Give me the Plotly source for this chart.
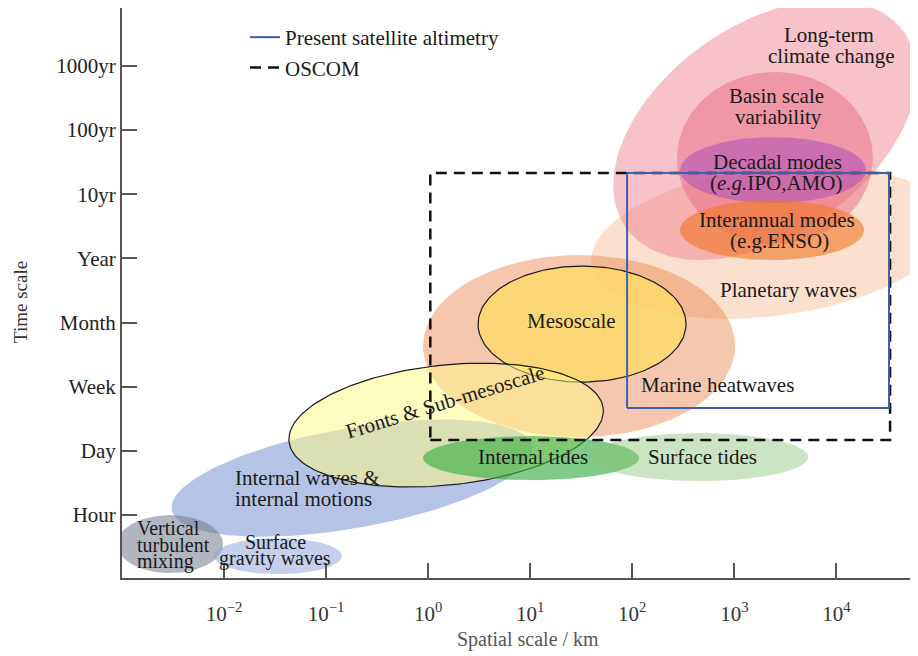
import numpy as np
import plotly.graph_objects as go

# ---------------- data ----------------
time_ticks = ["Hour", "Day", "Week", "Month", "Year", "10yr", "100yr", "1000yr"]
space_ticks_km = [1e-2, 1e-1, 1e0, 1e1, 1e2, 1e3, 1e4]
space_tick_text = ["10<sup>−2</sup>", "10<sup>−1</sup>", "10<sup>0</sup>", "10<sup>1</sup>",
                   "10<sup>2</sup>", "10<sup>3</sup>", "10<sup>4</sup>"]

# phenomena: centre spatial scale (km), centre time (tick index, Hour=0),
# half extent along main axis (decades), half extent across (time ticks), tilt (deg)
phen_names = ["Planetary waves", "Long-term climate change", "Basin scale variability",
              "Decadal modes", "Interannual modes", "Marine heatwaves", "Mesoscale",
              "Internal waves & internal motions", "Fronts & Sub-mesoscale",
              "Internal tides", "Surface tides", "Vertical turbulent mixing",
              "Surface gravity waves"]
phen_center_km = [2240, 2000, 2500, 2400, 2340, 30.1, 32.2, 0.179, 1.50, 10.2, 452, 0.00296, 0.0338]
phen_center_t = [4.253, 6.00, 5.562, 5.375, 4.440, 2.633, 2.976, 0.576, 1.402, 0.888, 0.904, -0.452, -0.639]
phen_half_dec = [1.764, 1.666, 0.960, 0.911, 0.902, 1.529, 1.019, 1.793, 1.548, 1.058, 1.068, 0.519, 0.627]
phen_half_t = [1.153, 1.636, 1.340, 0.514, 0.467, 1.418, 0.904, 0.779, 0.935, 0.343, 0.374, 0.452, 0.280]
phen_tilt = [7, 35, 0, 0, 0, 0, 0, 10, 6, 0, 0, 0, 0]

phen_fill = ["rgba(245,180,130,0.40)", "rgba(238,120,135,0.45)", "rgba(230,100,130,0.47)",
             "rgba(175,80,185,0.55)", "rgba(240,120,40,0.62)", "rgba(232,130,75,0.45)",
             "rgba(255,222,95,0.72)", "rgba(90,125,200,0.45)", "rgba(255,250,130,0.50)",
             "rgba(60,175,70,0.65)", "rgba(140,195,120,0.45)", "rgba(115,122,140,0.55)",
             "rgba(140,160,215,0.50)"]
phen_outline = [None, None, None, None, None, None, "#1a1a1a", None, "#1a1a1a",
                None, None, None, None]

# observing systems (rectangles)
altimetry_km = [89, 32800]
altimetry_t = [1.667, 5.328]
oscom_km = [1.05, 33600]
oscom_t = [1.168, 5.328]

# text labels
label_text = ["Long-term", "climate change", "Basin scale", "variability", "Decadal modes",
              "(<i>e.g.</i>IPO,AMO)", "Interannual modes", "(e.g.ENSO)", "Planetary waves",
              "Mesoscale", "Marine heatwaves", "Internal tides", "Surface tides",
              "Internal waves &", "internal motions", "Vertical", "turbulent", "mixing",
              "Surface", "gravity waves", "Fronts & Sub-mesoscale"]
label_lx = [3.929, 3.948, 3.409, 3.429, 3.419, 3.409, 3.419, 3.439, 3.527, 1.400, 2.831,
            1.028, 2.684, -1.912, -1.912, -2.872, -2.872, -2.872, -1.500, -1.500, 0.166]
label_t = [7.478, 7.151, 6.527, 6.200, 5.499, 5.172, 4.596, 4.269, 3.505, 3.022, 2.025,
           0.904, 0.904, 0.576, 0.249, -0.203, -0.467, -0.717, -0.421, -0.670, 1.760]
label_anchor = ["center"] * 13 + ["left"] * 5 + ["center"] * 3
label_angle = [0] * 20 + [-17]
label_size = [21] * 15 + [20, 20, 20, 20, 20, 21]

# ---------------- layout geometry ----------------
# page body has an 8px margin: figure is 910x648 so the plot lands on the reference pixels
W, H = 910, 648
margin = dict(l=114, r=0, t=0, b=78)
x_range = [-3, 4.8]
y_range = [-0.98, 7.9]
ppx = (W - margin["l"] - margin["r"]) / (x_range[1] - x_range[0])
ppy = (H - margin["t"] - margin["b"]) / (y_range[1] - y_range[0])

FONT = "Liberation Serif, Times New Roman, serif"

fig = go.Figure()

theta = np.linspace(0, 2 * np.pi, 181)
for i, name in enumerate(phen_names):
    a = phen_half_dec[i] * ppx
    b = phen_half_t[i] * ppy
    ang = np.deg2rad(phen_tilt[i])
    u = a * np.cos(theta)
    v = b * np.sin(theta)
    X = u * np.cos(ang) - v * np.sin(ang)
    Y = u * np.sin(ang) + v * np.cos(ang)
    lx = np.log10(phen_center_km[i]) + X / ppx
    ty = phen_center_t[i] + Y / ppy
    line = dict(width=1.2, color=phen_outline[i]) if phen_outline[i] else dict(width=0)
    fig.add_trace(go.Scatter(x=10 ** lx, y=ty, mode="lines", fill="toself",
                             fillcolor=phen_fill[i], line=line, name=name,
                             showlegend=False, hoverinfo="skip"))


def rect(km, t):
    return ([km[0], km[1], km[1], km[0], km[0]], [t[0], t[0], t[1], t[1], t[0]])


rx, ry = rect(oscom_km, oscom_t)
fig.add_trace(go.Scatter(x=rx, y=ry, mode="lines", name="OSCOM",
                         line=dict(color="#111111", width=2.5, dash="11px,7px"),
                         legendrank=2, hoverinfo="skip"))
rx, ry = rect(altimetry_km, altimetry_t)
fig.add_trace(go.Scatter(x=rx, y=ry, mode="lines", name="Present satellite altimetry",
                         line=dict(color="#3c5fae", width=2), legendrank=1, hoverinfo="skip"))

for txt, lx, t, anc, ang, sz in zip(label_text, label_lx, label_t, label_anchor,
                                    label_angle, label_size):
    fig.add_annotation(x=lx, y=t, xref="x", yref="y", text=txt, showarrow=False,
                       xanchor=anc, yanchor="middle", textangle=ang,
                       font=dict(family=FONT, size=sz, color="#1a1a1a"))

plot_w = W - margin["l"] - margin["r"]
plot_h = H - margin["t"] - margin["b"]
fig.add_annotation(text="Time scale", xref="paper", yref="paper",
                   x=(20 - 122) / plot_w, y=(578 - 302) / plot_h,
                   textangle=-90, showarrow=False, xanchor="center", yanchor="middle",
                   font=dict(family=FONT, size=19, color="#333333"))
fig.add_annotation(text="Spatial scale / km", xref="paper", yref="paper",
                   x=(528 - 122) / plot_w, y=(578 - 639) / plot_h,
                   showarrow=False, xanchor="center", yanchor="middle",
                   font=dict(family=FONT, size=20, color="#555555"))

fig.update_layout(
    width=W, height=H, margin=margin,
    paper_bgcolor="white", plot_bgcolor="white",
    hovermode=False,
    font=dict(family=FONT, size=21, color="#222222"),
    legend=dict(x=(245 - 122) / plot_w, y=1 - (17 - 8) / plot_h, xanchor="left", yanchor="top",
                bgcolor="rgba(0,0,0,0)", font=dict(family=FONT, size=21, color="#1a1a1a"),
                tracegroupgap=0),
    xaxis=dict(type="log", range=x_range, tickvals=space_ticks_km, ticktext=space_tick_text,
               ticks="inside", ticklen=15, tickwidth=2, tickcolor="#555555",
               showline=True, linecolor="#555555", linewidth=2, showgrid=False,
               zeroline=False, ticklabelstandoff=16,
               tickfont=dict(family=FONT, size=21, color="#333333")),
    yaxis=dict(range=y_range, tickvals=list(range(len(time_ticks))), ticktext=time_ticks,
               ticks="inside", ticklen=15, tickwidth=2, tickcolor="#555555",
               showline=True, linecolor="#555555", linewidth=2, showgrid=False,
               zeroline=False,
               tickfont=dict(family=FONT, size=21, color="#222222")),
)

fig.write_html("out.html")
